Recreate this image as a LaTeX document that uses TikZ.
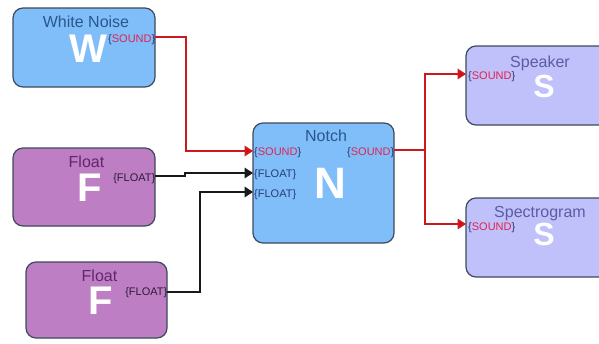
\documentclass[tikz,border=0pt]{standalone}
\usepackage{fontspec}
\setmainfont{Liberation Sans}
\usetikzlibrary{arrows.meta}

\definecolor{blueFill}{RGB}{128,190,250}
\definecolor{purpleFill}{RGB}{190,126,196}
\definecolor{lavFill}{RGB}{192,192,250}
\definecolor{edgeCol}{RGB}{62,74,92}
\definecolor{wireRed}{RGB}{205,25,30}
\definecolor{portRed}{RGB}{225,35,80}
\definecolor{blueTitle}{RGB}{40,88,140}
\definecolor{purpleTitle}{RGB}{98,38,108}
\definecolor{lavTitle}{RGB}{92,92,165}
\definecolor{braceCol}{RGB}{40,60,120}
\definecolor{floatText}{RGB}{45,30,55}

% port label texts
\newcommand{\soundport}{{\color{braceCol}\{}{\color{portRed}SOUND}{\color{braceCol}\}}}
\newcommand{\floatport}{\{FLOAT\}}

\tikzset{
  block/.style={draw=edgeCol, line width=1.2pt, rounded corners=10pt, inner sep=0pt},
  title/.style={anchor=base, inner sep=0pt, font=\fontsize{16}{16}\selectfont},
  glyph/.style={anchor=base, inner sep=0pt, text=white, font=\bfseries\fontsize{#1}{#1}\selectfont},
  glyph/.default=40,
  portlabel/.style={inner sep=0pt, font=\fontsize{11}{11}\selectfont},
  redwire/.style={draw=wireRed, line width=2pt, -{Triangle[length=8.5pt,width=10.5pt,fill=red!92!black]}},
  blackwire/.style={draw=black!90, line width=2pt, -{Triangle[length=8.5pt,width=10.5pt]}},
  plainwire/.style={draw=wireRed, line width=2pt}
}

\begin{document}
\begin{tikzpicture}[x=1pt, y=-1pt]
\useasboundingbox (0,0) rectangle (599,343);
\fill[white] (0,0) rectangle (599,343);

% ---- blocks ----
\node[block, fill=blueFill, minimum width=142pt, minimum height=79pt] (wn) at (84,47.5) {};
\node[block, fill=purpleFill, minimum width=142pt, minimum height=78pt] (f1) at (84,187) {};
\node[block, fill=purpleFill, minimum width=141pt, minimum height=76pt] (f2) at (96.5,300) {};
\node[block, fill=blueFill, minimum width=141pt, minimum height=120pt] (notch) at (323.5,183) {};
\node[block, fill=lavFill, minimum width=146pt, minimum height=79pt] (spk) at (539,85.5) {};
\node[block, fill=lavFill, minimum width=146pt, minimum height=79pt] (spc) at (539,237.5) {};

% ---- titles ----
\node[title, text=blueTitle] (wnt) at (86,27) {White Noise};
\node[title, text=purpleTitle] (f1t) at (86.5,167) {Float};
\node[title, text=purpleTitle] (f2t) at (99.5,281) {Float};
\node[title, text=blueTitle] (nt) at (326,141) {Notch};
\node[title, text=lavTitle] (spkt) at (540,67) {Speaker};
\node[title, text=lavTitle] (spct) at (540,217) {Spectrogram};

% ---- big letters ----
\node[glyph=40] (wng) at (88,62) {W};
\node[glyph=40] (f1g) at (90,201) {F};
\node[glyph=40] (f2g) at (101,314) {F};
\node[glyph=44] (ng) at (330,198) {N};
\node[glyph=32] (spkg) at (544,97) {S};
\node[glyph=32] (spcg) at (544,245) {S};

% ---- port anchor points on block edges ----
\coordinate (wnout) at (155,37);
\coordinate (f1out) at (155,176);
\coordinate (f2out) at (167,292);
\coordinate (nin1) at (253,151);
\coordinate (nin2) at (253,173);
\coordinate (nin3) at (253,192);
\coordinate (nout) at (394,150);
\coordinate (spkin) at (466,74);
\coordinate (spcin) at (466,224);

% ---- port labels ----
\node[portlabel, anchor=east] (wnp) at (155.5,40) {\soundport};
\node[portlabel, anchor=east, text=floatText] (f1p) at (155.5,179) {\floatport};
\node[portlabel, anchor=east, text=floatText] (f2p) at (167.5,293) {\floatport};
\node[portlabel, anchor=west] (np1) at (254,153) {\soundport};
\node[portlabel, anchor=west, text=braceCol] (np2) at (254,175) {\floatport};
\node[portlabel, anchor=west, text=braceCol] (np3) at (254,195) {\floatport};
\node[portlabel, anchor=east] (npo) at (394.5,153) {\soundport};
\node[portlabel, anchor=west] (spkp) at (468,77) {\soundport};
\node[portlabel, anchor=west] (spcp) at (468,228) {\soundport};

% ---- connectors ----
\draw[redwire] (wnout) -- ++(31,0) |- (nin1);
\draw[blackwire] (f1out) -- ++(30,0) |- (nin2);
\draw[blackwire] (f2out) -- ++(33,0) |- (nin3);
\draw[plainwire] (nout) -- ++(31,0) coordinate (split);
\draw[redwire] (split) |- (spkin);
\draw[redwire] (split) |- (spcin);
\end{tikzpicture}
\end{document}
